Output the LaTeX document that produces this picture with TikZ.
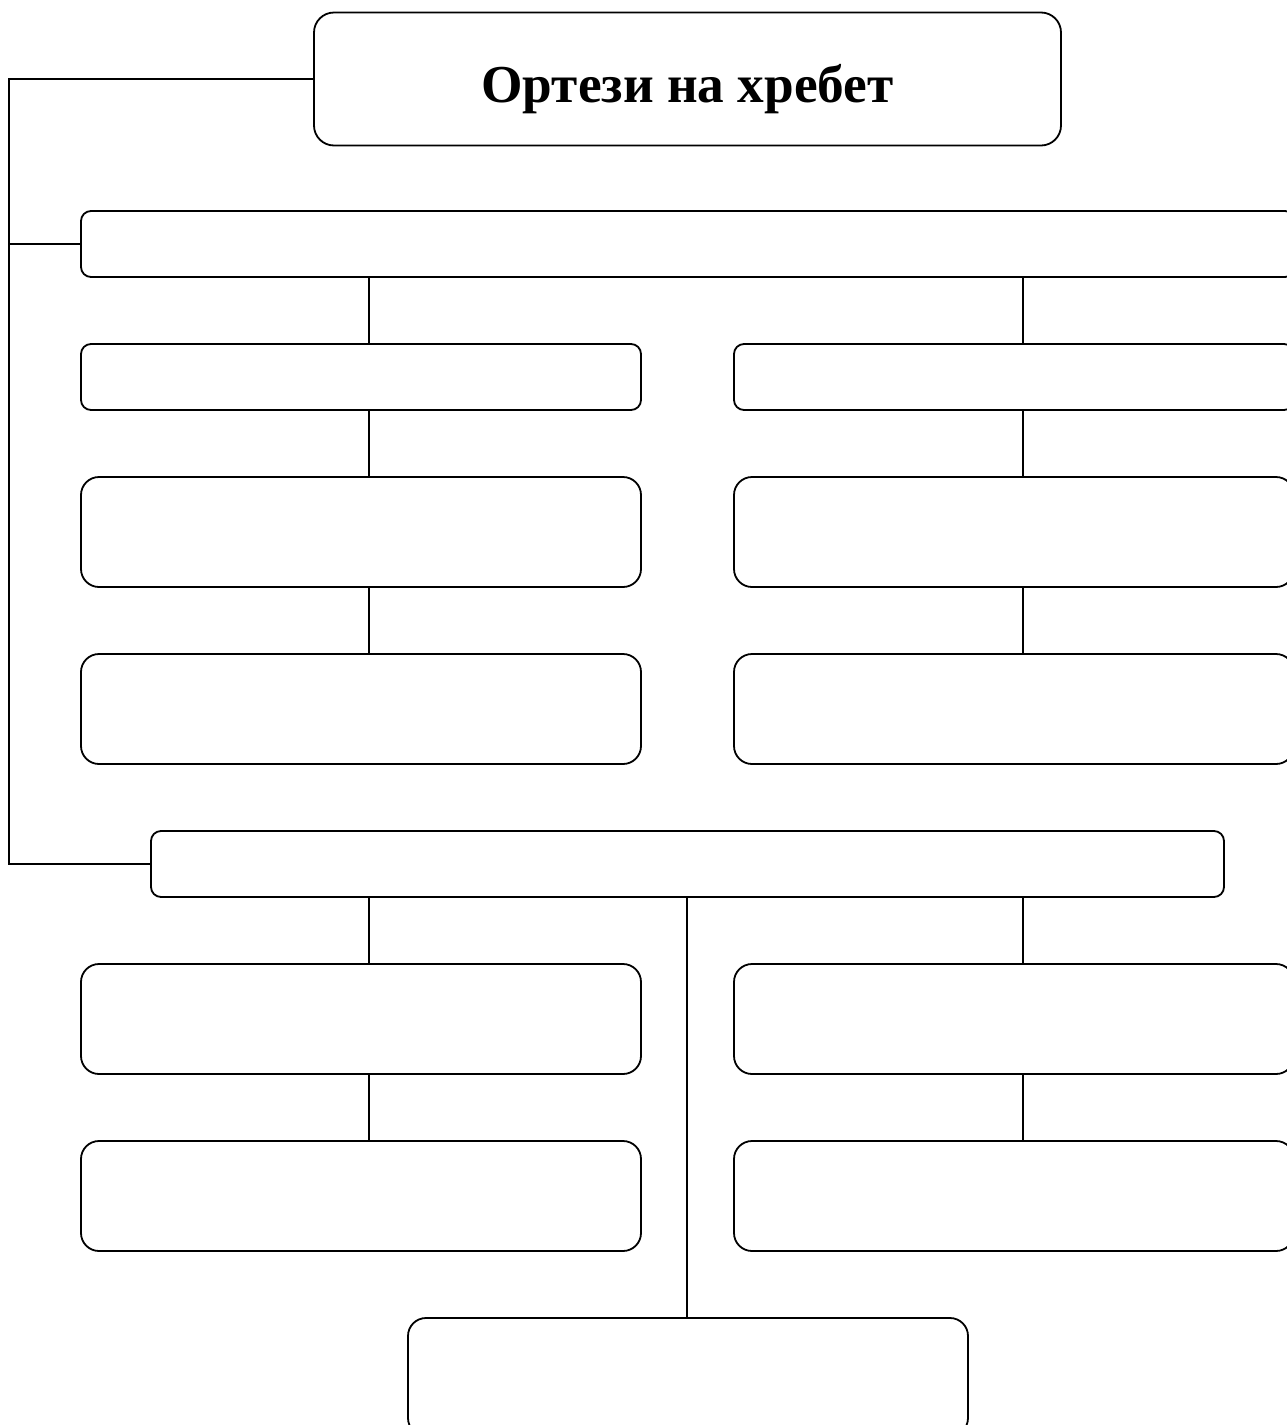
\documentclass[tikz,border=0pt]{standalone}
\usepackage{fontspec}
\setmainfont{Liberation Serif}
\begin{document}
\begin{tikzpicture}[x=1pt,y=-1pt,
  every node/.style={inner sep=0pt,outer sep=0pt},
  box/.style={draw=black,line width=1.8pt,rounded corners=#1,fill=white},
  box/.default=10pt,
  conn/.style={draw=black,line width=1.8pt}]
\useasboundingbox (0,0) rectangle (1287,1425);
\clip (0,0) rectangle (1287,1425);
% boxes
\node[box=20pt,minimum width=747pt,minimum height=133pt,text height=47pt,text depth=0pt,font=\bfseries\fontsize{53.3}{64}\selectfont] (title) at (687.5,79) {Ортези на хребет};
\node[box,minimum width=1214pt,minimum height=66pt] (A) at (688,244) {};
\node[box,minimum width=560pt,minimum height=66pt] (L1) at (361,377) {};
\node[box,minimum width=560pt,minimum height=66pt] (R1) at (1014,377) {};
\node[box=18pt,minimum width=560pt,minimum height=110pt] (L2) at (361,532) {};
\node[box=18pt,minimum width=560pt,minimum height=110pt] (R2) at (1014,532) {};
\node[box=18pt,minimum width=560pt,minimum height=110pt] (L3) at (361,709) {};
\node[box=18pt,minimum width=560pt,minimum height=110pt] (R3) at (1014,709) {};
\node[box,minimum width=1073pt,minimum height=66pt] (B) at (687.5,864) {};
\node[box=18pt,minimum width=560pt,minimum height=110pt] (L4) at (361,1019) {};
\node[box=18pt,minimum width=560pt,minimum height=110pt] (R4) at (1014,1019) {};
\node[box=18pt,minimum width=560pt,minimum height=110pt] (L5) at (361,1196) {};
\node[box=18pt,minimum width=560pt,minimum height=110pt] (R5) at (1014,1196) {};
\node[box=18pt,minimum width=560pt,minimum height=118pt] (C) at (688,1377) {};
% connector coordinates
\coordinate (xl) at (369,0);
\coordinate (xr) at (1023,0);
\coordinate (xm) at (687,0);
\coordinate (xs) at (9,0);
% left spine
\draw[conn] (title.west) -- (title.west -| xs) -- (B.west -| xs) -- (B.west);
\draw[conn] (A.west -| xs) -- (A.west);
% A branches
\draw[conn] (A.south -| xl) -- (L1.north -| xl);
\draw[conn] (A.south -| xr) -- (R1.north -| xr);
\draw[conn] (L1.south -| xl) -- (L2.north -| xl);
\draw[conn] (R1.south -| xr) -- (R2.north -| xr);
\draw[conn] (L2.south -| xl) -- (L3.north -| xl);
\draw[conn] (R2.south -| xr) -- (R3.north -| xr);
% B branches
\draw[conn] (B.south -| xl) -- (L4.north -| xl);
\draw[conn] (B.south -| xr) -- (R4.north -| xr);
\draw[conn] (L4.south -| xl) -- (L5.north -| xl);
\draw[conn] (R4.south -| xr) -- (R5.north -| xr);
\draw[conn] (B.south -| xm) -- (C.north -| xm);
\end{tikzpicture}
\end{document}
